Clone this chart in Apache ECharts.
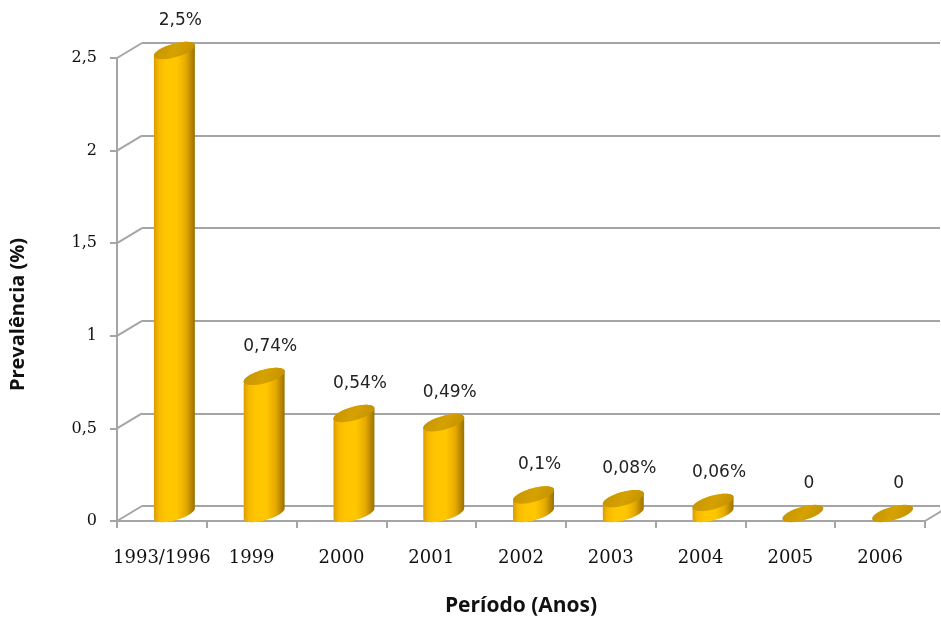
<!DOCTYPE html>
<html>
<head>
<meta charset="utf-8">
<script src="https://cdn.jsdelivr.net/npm/echarts@6/dist/echarts.min.js"></script>
<style>
  html, body { margin: 0; padding: 0; background: #fff; }
  #chart { width: 941px; height: 617px; }
</style>
</head>
<body>
<div id="chart"></div>
<script>
// dados do gráfico
const categories = ['1993/1996', '1999', '2000', '2001', '2002', '2003', '2004', '2005', '2006']
const prevalence = [2.5, 0.74, 0.54, 0.49, 0.1, 0.08, 0.06, 0, 0]
const valueLabels = ['2,5%', '0,74%', '0,54%', '0,49%', '0,1%', '0,08%', '0,06%', '0', '0']
const yTicks = [0, 0.5, 1, 1.5, 2, 2.5]

// profundidade do efeito 3D
const DX = 25
const DY = 15
const TILT = 0.25
const gridColor = '#a5a5a5'

const chart = echarts.init(document.getElementById('chart'))

const bodyFill = new echarts.graphic.LinearGradient(0, 0, 1, 0, [
  { offset: 0, color: '#dc9c00' },
  { offset: 0.12, color: '#f6b900' },
  { offset: 0.3, color: '#ffc600' },
  { offset: 0.55, color: '#ffc700' },
  { offset: 0.78, color: '#e6aa00' },
  { offset: 1, color: '#9a7000' }
])
const topFill = new echarts.graphic.LinearGradient(0, 0, 1, 1, [
  { offset: 0, color: '#c49200' },
  { offset: 0.5, color: '#d6a200' },
  { offset: 1, color: '#c08e00' }
])

// ponto de uma elipse inclinada (cisalhamento vertical)
function ellipsePt(cx, cy, rx, ry, a) {
  return [cx + rx * Math.cos(a), cy + ry * Math.sin(a) - TILT * rx * Math.cos(a)]
}

function renderCylinder(params, api) {
  const i = api.value(0)
  const v = api.value(1)
  const base = api.coord([i, 0])
  const top = api.coord([i, v])
  const bw = api.size([1, 0])[0]
  const rx = bw * 0.228
  const ry = 7
  const cx = base[0] + DX / 2
  const yb = base[1] - DY / 2
  const yt = top[1] - DY / 2
  const n = 40
  const children = []
  if (v > 0) {
    const body = []
    for (let k = 0; k <= n; k++) body.push(ellipsePt(cx, yb, rx, ry, Math.PI * k / n))
    for (let k = 0; k <= n; k++) body.push(ellipsePt(cx, yt, rx, ry, Math.PI + Math.PI * k / n))
    children.push({ type: 'polygon', shape: { points: body }, style: { fill: bodyFill } })
  }
  const cap = []
  for (let k = 0; k < 2 * n; k++) cap.push(ellipsePt(cx, yt, rx, ry, Math.PI * k / n))
  children.push({ type: 'polygon', shape: { points: cap }, style: { fill: topFill } })
  children.push({
    type: 'text',
    x: cx + 6,
    y: yt - 30,
    style: {
      text: valueLabels[params.dataIndex],
      align: 'center',
      verticalAlign: 'middle',
      fontFamily: 'DejaVu Sans',
      fontSize: 17,
      fill: '#222'
    }
  })
  return { type: 'group', children: children }
}

function renderConnector(params, api) {
  const p = api.coord([api.value(0), api.value(1)])
  const bw = api.size([1, 0])[0]
  const x0 = params.seriesName === 'right' ? p[0] + bw / 2 : p[0] - bw / 2
  return {
    type: 'line',
    shape: { x1: x0, y1: p[1], x2: x0 + DX, y2: p[1] - DY },
    style: { stroke: gridColor, lineWidth: 2 }
  }
}

chart.setOption({
  animation: false,
  grid: [
    { left: 117, right: 16, top: 58, bottom: 96, containLabel: false, outerBoundsMode: 'none' },
    { left: 142, right: 1, top: 43, bottom: 111, containLabel: false, outerBoundsMode: 'none' }
  ],
  xAxis: [
    {
      type: 'category',
      gridIndex: 0,
      data: categories,
      name: 'Período (Anos)',
      nameLocation: 'middle',
      nameGap: 75,
      nameTextStyle: { fontFamily: 'Open Sans', fontWeight: 'bold', fontSize: 21, color: '#111' },
      axisLine: { lineStyle: { color: gridColor, width: 2 } },
      axisTick: { show: true, interval: 0, length: 7, lineStyle: { color: gridColor, width: 2 } },
      axisLabel: { interval: 0, margin: 28, fontFamily: 'DejaVu Serif', fontSize: 18, color: '#111' },
      splitLine: { show: false }
    },
    {
      type: 'category',
      gridIndex: 1,
      data: categories,
      show: false
    }
  ],
  yAxis: [
    {
      type: 'value',
      gridIndex: 0,
      min: 0,
      max: 2.5,
      interval: 0.5,
      name: 'Prevalência (%)',
      nameLocation: 'middle',
      nameRotate: 90,
      nameGap: 89,
      nameTextStyle: {
        fontFamily: 'Open Sans',
        fontWeight: 'bold',
        fontSize: 20,
        color: '#111',
        padding: [0, 50, 0, 0]
      },
      axisLine: { show: true, lineStyle: { color: gridColor, width: 2 } },
      axisTick: { show: true, length: 7, lineStyle: { color: gridColor, width: 2 } },
      axisLabel: {
        margin: 20,
        fontFamily: 'DejaVu Serif',
        fontSize: 16,
        color: '#111',
        formatter: function (v) { return String(v).replace('.', ',') }
      },
      splitLine: { show: false }
    },
    {
      type: 'value',
      gridIndex: 1,
      min: 0,
      max: 2.5,
      interval: 0.5,
      axisLine: { show: false },
      axisTick: { show: false },
      axisLabel: { show: false },
      splitLine: { show: true, lineStyle: { color: gridColor, width: 2 } }
    }
  ],
  series: [
    {
      name: 'left',
      type: 'custom',
      xAxisIndex: 0,
      yAxisIndex: 0,
      clip: false,
      silent: true,
      renderItem: renderConnector,
      data: yTicks.map(v => [0, v])
    },
    {
      name: 'right',
      type: 'custom',
      xAxisIndex: 0,
      yAxisIndex: 0,
      clip: false,
      silent: true,
      renderItem: renderConnector,
      data: [[categories.length - 1, 0]]
    },
    {
      name: 'Prevalência',
      type: 'custom',
      xAxisIndex: 0,
      yAxisIndex: 0,
      clip: false,
      renderItem: renderCylinder,
      data: prevalence.map((v, i) => [i, v])
    }
  ]
})
</script>
</body>
</html>
